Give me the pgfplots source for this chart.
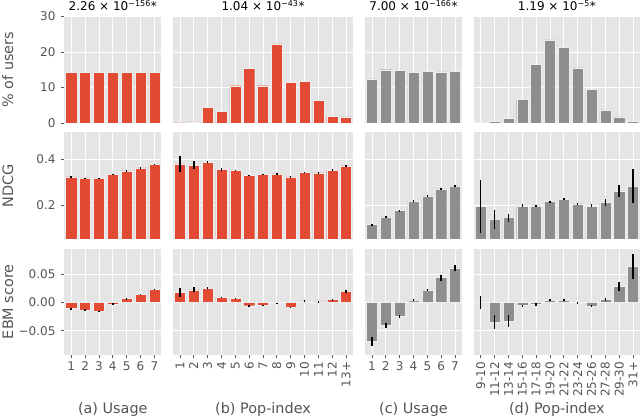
\documentclass[border=0pt]{standalone}
\usepackage{fontspec}
\setmainfont{DejaVu Sans}
\usepackage{pgfplots}
\pgfplotsset{compat=1.18}
\definecolor{bgc}{HTML}{E5E5E5}
\definecolor{redc}{HTML}{E24A33}
\definecolor{greyc}{HTML}{8E8E8E}
\definecolor{labc}{HTML}{555555}
\definecolor{edgec}{HTML}{EEEEEE}
\newcommand\tickfont{\fontsize{12}{14}\selectfont}
\newcommand\labfont{\fontsize{14.4}{16}\selectfont}
\pgfplotsset{
  base/.style={scale only axis, height=106.5pt, anchor=south west,
    axis background/.style={fill=bgc}, axis line style={draw=none},
    xmajorgrids, ymajorgrids, grid style={white, line width=0.8pt},
    tick align=outside, major tick length=3.3pt, tick style={color=labc, line width=0.8pt},
    ticklabel style={font=\tickfont, text=labc},
    xtick pos=bottom, ytick pos=left,
    xmin=-0.5, ybar, bar width=0.8,
    scaled y ticks=false, scaled x ticks=false,
    /pgf/number format/assume math mode=true,
    yticklabel style={xshift=-2pt},
    every axis title/.style={at={(axis description cs:0.5,1)}, anchor=base, yshift=5.8pt, font=\tickfont, text=black},
    ylabel style={at={(axis description cs:-0.529,0.5)}, anchor=base, font=\labfont, text=labc},
  },
  cA/.style={width=96.95pt, xmax=6.5, xtick={0,...,6}},
  cB/.style={width=180.05pt, xmax=12.5, xtick={0,...,12}},
  cD/.style={width=166.2pt, xmax=11.5, xtick={0,...,11}},
  r1/.style={ymin=0, ymax=30, ytick={0,10,20,30}, xticklabels={}, xtick style={draw=none}},
  r2/.style={ymin=0.056, ymax=0.515, ytick={0.2,0.4}, xticklabels={}, xtick style={draw=none}},
  r3/.style={ymin=-0.093, ymax=0.095, ytick={-0.05,0,0.05},
    xlabel style={at={(axis description cs:0.5,0)}, anchor=base, yshift=-59pt, font=\labfont, text=labc}},
  noy/.style={yticklabels={}, ytick style={draw=none}},
  rot/.style={xticklabel style={rotate=90, anchor=east}},
  redbar/.style={fill=redc, draw=edgec, line width=0.4pt},
  greybar/.style={fill=greyc, draw=edgec, line width=0.4pt},
  eb/.style={error bars/y dir=both, error bars/y explicit, error bars/error mark=none,
    error bars/error bar style={black, line width=1.5pt}},
}
\begin{document}
\begin{tikzpicture}
\path[use as bounding box] (0pt,0pt) rectangle (640pt,419pt);
% ---------------- Row 1: % of users
\begin{axis}[base, cA, r1, at={(64.3pt,296pt)}, yticklabels={0,10,20,30},
  ylabel={\% of users}, title={2.26 × 10\textsuperscript{−156}*}]
\addplot[redbar] coordinates {(0,14.29)(1,14.29)(2,14.29)(3,14.29)(4,14.29)(5,14.29)(6,14.29)};
\end{axis}
\begin{axis}[base, cB, r1, noy, at={(173pt,296pt)}, title={1.04 × 10\textsuperscript{−43}*}]
\addplot[redbar] coordinates {(0,0.05)(1,0.3)(2,4.5)(3,3.3)(4,10.5)(5,15.3)(6,10.5)(7,22.3)(8,11.5)(9,11.8)(10,6.3)(11,1.9)(12,1.7)};
\end{axis}
\begin{axis}[base, cA, r1, noy, at={(365pt,296pt)}, title={7.00 × 10\textsuperscript{−166}*}]
\addplot[greybar] coordinates {(0,12.4)(1,15.0)(2,14.8)(3,14.3)(4,14.6)(5,14.4)(6,14.5)};
\end{axis}
\begin{axis}[base, cD, r1, noy, at={(473.8pt,296pt)}, title={1.19 × 10\textsuperscript{−5}*}]
\addplot[greybar] coordinates {(0,0.1)(1,0.4)(2,1.4)(3,6.6)(4,16.6)(5,23.4)(6,21.3)(7,15.5)(8,9.4)(9,3.7)(10,1.7)(11,0.4)};
\end{axis}
% ---------------- Row 2: NDCG
\begin{axis}[base, cA, r2, at={(64.3pt,180pt)}, yticklabels={0.2,0.4}, ylabel={NDCG}]
\addplot[redbar, eb] coordinates {(0,0.324)+-(0,0.002)(1,0.319)+-(0,0.002)(2,0.318)+-(0,0.002)(3,0.335)+-(0,0.002)(4,0.350)+-(0,0.002)(5,0.363)+-(0,0.002)(6,0.378)+-(0,0.002)};
\end{axis}
\begin{axis}[base, cB, r2, noy, at={(173pt,180pt)}]
\addplot[redbar, eb] coordinates {(0,0.380)+-(0,0.035)(1,0.374)+-(0,0.016)(2,0.386)+-(0,0.004)(3,0.357)+-(0,0.006)(4,0.352)+-(0,0.003)(5,0.330)+-(0,0.002)(6,0.334)+-(0,0.002)(7,0.337)+-(0,0.002)(8,0.324)+-(0,0.003)(9,0.343)+-(0,0.003)(10,0.341)+-(0,0.003)(11,0.352)+-(0,0.005)(12,0.371)+-(0,0.005)};
\end{axis}
\begin{axis}[base, cA, r2, noy, at={(365pt,180pt)}]
\addplot[greybar, eb] coordinates {(0,0.118)+-(0,0.004)(1,0.151)+-(0,0.004)(2,0.178)+-(0,0.004)(3,0.219)+-(0,0.004)(4,0.242)+-(0,0.004)(5,0.272)+-(0,0.005)(6,0.285)+-(0,0.005)};
\end{axis}
\begin{axis}[base, cD, r2, noy, at={(473.8pt,180pt)}]
\addplot[greybar, eb] coordinates {(0,0.197)+-(0,0.114)(1,0.141)+-(0,0.042)(2,0.148)+-(0,0.017)(3,0.199)+-(0,0.006)(4,0.199)+-(0,0.004)(5,0.217)+-(0,0.004)(6,0.227)+-(0,0.004)(7,0.207)+-(0,0.006)(8,0.199)+-(0,0.006)(9,0.213)+-(0,0.014)(10,0.262)+-(0,0.027)(11,0.285)+-(0,0.073)};
\end{axis}
% ---------------- Row 3: EBM score
\begin{axis}[base, cA, r3, at={(64.3pt,64pt)}, yticklabels={−0.05,0.00,0.05}, ylabel={EBM score},
  xticklabels={1,2,3,4,5,6,7}, xlabel={(a) Usage}]
\addplot[redbar, eb] coordinates {(0,-0.0112)+-(0,0.001)(1,-0.0135)+-(0,0.001)(2,-0.016)+-(0,0.001)(3,-0.003)+-(0,0.001)(4,0.0065)+-(0,0.001)(5,0.014)+-(0,0.001)(6,0.023)+-(0,0.001)};
\end{axis}
\begin{axis}[base, cB, r3, noy, rot, at={(173pt,64pt)},
  xticklabels={1,2,3,4,5,6,7,8,9,10,11,12,13+}, xlabel={(b) Pop-index}]
\addplot[redbar, eb] coordinates {(0,0.0176)+-(0,0.008)(1,0.022)+-(0,0.0045)(2,0.0247)+-(0,0.002)(3,0.0088)+-(0,0.001)(4,0.007)+-(0,0.001)(5,-0.006)+-(0,0.001)(6,-0.0053)+-(0,0.001)(7,-0.0018)+-(0,0.001)(8,-0.0088)+-(0,0.001)(9,0.0024)+-(0,0.001)(10,0.0006)+-(0,0.001)(11,0.0047)+-(0,0.002)(12,0.0188)+-(0,0.003)};
\end{axis}
\begin{axis}[base, cA, r3, noy, at={(365pt,64pt)},
  xticklabels={1,2,3,4,5,6,7}, xlabel={(c) Usage}]
\addplot[greybar, eb] coordinates {(0,-0.0694)+-(0,0.008)(1,-0.0412)+-(0,0.005)(2,-0.0247)+-(0,0.003)(3,0.0041)+-(0,0.002)(4,0.0218)+-(0,0.002)(5,0.0435)+-(0,0.005)(6,0.0606)+-(0,0.006)};
\end{axis}
\begin{axis}[base, cD, r3, noy, rot, at={(473.8pt,64pt)},
  xticklabels={9-10,11-12,13-14,15-16,17-18,19-20,21-22,23-24,25-26,27-28,29-30,31+}, xlabel={(d) Pop-index}]
\addplot[greybar, eb] coordinates {(0,0.0)+-(0,0.012)(1,-0.0347)+-(0,0.012)(2,-0.033)+-(0,0.010)(3,-0.0059)+-(0,0.002)(4,-0.004)+-(0,0.002)(5,0.0035)+-(0,0.002)(6,0.004)+-(0,0.002)(7,-0.0012)+-(0,0.001)(8,-0.0065)+-(0,0.002)(9,0.0047)+-(0,0.003)(10,0.028)+-(0,0.008)(11,0.063)+-(0,0.022)};
\end{axis}
\end{tikzpicture}
\end{document}
